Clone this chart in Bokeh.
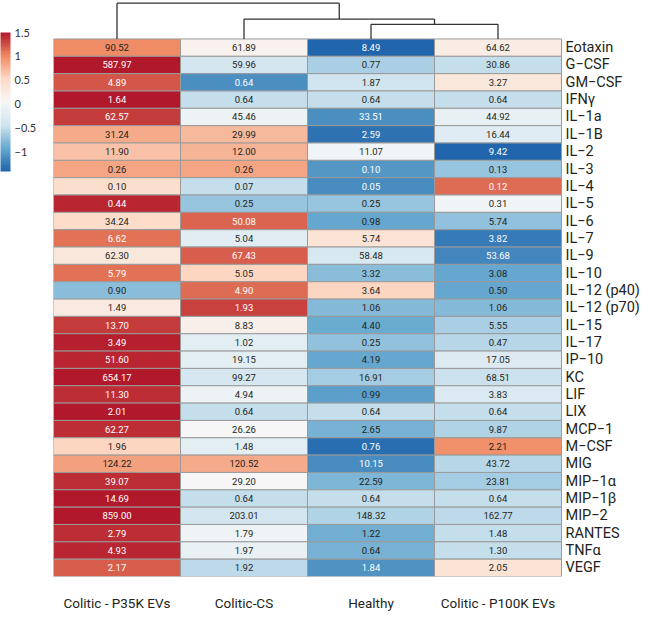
import numpy as np
from bokeh.plotting import figure
from bokeh.models import Range1d, FixedTicker, ColumnDataSource, LinearColorMapper, ColorBar
from bokeh.core.properties import value
from bokeh.embed import file_html
from bokeh.resources import INLINE

# ---------------- data ----------------
samples = ["Colitic - P35K EVs", "Colitic-CS", "Healthy", "Colitic - P100K EVs"]
cytokines = ["Eotaxin", "G−CSF", "GM−CSF", "IFNγ", "IL−1a", "IL−1B", "IL−2", "IL−3",
             "IL−4", "IL−5", "IL−6", "IL−7", "IL−9", "IL−10", "IL−12 (p40)",
             "IL−12 (p70)", "IL−15", "IL−17", "IP−10", "KC", "LIF", "LIX", "MCP−1",
             "M−CSF", "MIG", "MIP−1α", "MIP−1β", "MIP−2", "RANTES", "TNFα", "VEGF"]
p35k = [90.52, 587.97, 4.89, 1.64, 62.57, 31.24, 11.90, 0.26, 0.10, 0.44, 34.24, 6.62,
        62.30, 5.79, 0.90, 1.49, 13.70, 3.49, 51.60, 654.17, 11.30, 2.01, 62.27, 1.96,
        124.22, 39.07, 14.69, 859.00, 2.79, 4.93, 2.17]
colitic_cs = [61.89, 59.96, 0.64, 0.64, 45.46, 29.99, 12.00, 0.26, 0.07, 0.25, 50.08, 5.04,
              67.43, 5.05, 4.90, 1.93, 8.83, 1.02, 19.15, 99.27, 4.94, 0.64, 26.26, 1.48,
              120.52, 29.20, 0.64, 203.01, 1.79, 1.97, 1.92]
healthy = [8.49, 0.77, 1.87, 0.64, 33.51, 2.59, 11.07, 0.10, 0.05, 0.25, 0.98, 5.74,
           58.48, 3.32, 3.64, 1.06, 4.40, 0.25, 4.19, 16.91, 0.99, 0.64, 2.65, 0.76,
           10.15, 22.59, 0.64, 148.32, 1.22, 0.64, 1.84]
p100k = [64.62, 30.86, 3.27, 0.64, 44.92, 16.44, 9.42, 0.13, 0.12, 0.31, 5.74, 3.82,
         53.68, 3.08, 0.50, 1.06, 5.55, 0.47, 17.05, 68.51, 3.83, 0.64, 9.87, 2.21,
         43.72, 23.81, 0.64, 162.77, 1.48, 1.30, 2.05]
# column dendrogram merges (scipy-style node ids: leaves 0..3, new nodes 4,5,6)
dendro_left = [2, 1, 0]
dendro_right = [3, 4, 5]
dendro_height = [0.41, 0.555, 1.0]
legend_ticks = [-1, -0.5, 0, 0.5, 1, 1.5]

# ---------------- derived (row-scaled z scores) ----------------
M = np.array([p35k, colitic_cs, healthy, p100k]).T           # rows x samples
Z = (M - M.mean(axis=1, keepdims=True)) / M.std(axis=1, ddof=1, keepdims=True)
nrow, ncol = M.shape

xs, ys, zs, labels, tcolors = [], [], [], [], []
for r in range(nrow):
    for c in range(ncol):
        xs.append(c + 0.5)
        ys.append(nrow - r - 0.5)
        zs.append(float(Z[r, c]))
        labels.append(f"{M[r, c]:.2f}")
        tcolors.append("white" if abs(Z[r, c]) > 1.0 else "#231f20")
cells = ColumnDataSource(dict(x=xs, y=ys, z=zs, label=labels, tcolor=tcolors))

# RdBu palette (blue -> white -> red)
anchors = ["#2166ac", "#67a9cf", "#d1e5f0", "#f7f7f7", "#fddbc7", "#ef8a62", "#b2182b"]
rgb = np.array([[int(h[i:i + 2], 16) for i in (1, 3, 5)] for h in anchors], float)
t = np.linspace(0, 1, 100)
pos = np.linspace(0, 1, len(anchors))
palette = ["#%02x%02x%02x" % tuple(int(round(np.interp(tt, pos, rgb[:, k]))) for k in range(3))
           for tt in t]
mapper = LinearColorMapper(palette=palette, low=float(Z.min()), high=float(Z.max()))

# ---------------- layout (pixels) ----------------
W, H = 641, 613
LEFT = 53            # heatmap left edge
HM_W = 508           # heatmap width
HM_TOP = 39          # heatmap top (dendrogram above it)
HM_BOT = 584         # heatmap bottom
row_px = (HM_BOT - HM_TOP) / nrow
D_ROWS = HM_TOP / row_px                      # dendrogram band, in row units
x_end = ncol * (W - LEFT) / HM_W              # extra room on the right for row names

p = figure(width=W, height=H, output_backend="svg", toolbar_location=None, title=None,
           x_range=Range1d(0, x_end), y_range=Range1d(0, nrow + D_ROWS),
           y_axis_location=None, min_border_left=LEFT, min_border_right=0,
           min_border_top=0, min_border_bottom=H - HM_BOT)
p.outline_line_color = None
p.grid.visible = False
p.background_fill_color = "white"
p.border_fill_color = "white"

p.rect(x="x", y="y", width=1, height=1, source=cells,
       fill_color={"field": "z", "transform": mapper},
       line_color="#9a9a9a", line_width=1)
p.text(x="x", y="y", text="label", source=cells, text_color="tcolor",
       text_align="center", text_baseline="middle",
       text_font=value("Roboto"), text_font_size="9.5px")

# dendrogram on its own scale: 0 = heatmap top, 1 = top merge
k = (HM_TOP - 2.7) / row_px
p.extra_y_ranges = {"dendro": Range1d(start=-nrow / k, end=D_ROWS / k)}
node_x = {i: i + 0.5 for i in range(ncol)}
node_h = {i: 0.0 for i in range(ncol)}
sx0, sy0, sx1, sy1 = [], [], [], []
for j, (a, b, h) in enumerate(zip(dendro_left, dendro_right, dendro_height)):
    nid = ncol + j
    for ch in (a, b):
        sx0.append(node_x[ch]); sy0.append(node_h[ch]); sx1.append(node_x[ch]); sy1.append(h)
    sx0.append(node_x[a]); sy0.append(h); sx1.append(node_x[b]); sy1.append(h)
    node_x[nid] = (node_x[a] + node_x[b]) / 2
    node_h[nid] = h
p.segment(x0=sx0, y0=sy0, x1=sx1, y1=sy1, y_range_name="dendro",
          line_color="#333333", line_width=1.3)

# row labels (right of the heatmap)
p.text(x=[ncol] * nrow, y=[nrow - r - 0.5 for r in range(nrow)], text=cytokines,
       x_offset=4, text_baseline="middle", text_align="left",
       text_font=value("Roboto"), text_font_size="14.5px",
       text_color="#231f20")

# column labels on the bottom axis
ax = p.xaxis[0]
ax.ticker = FixedTicker(ticks=[c + 0.5 for c in range(ncol)])
ax.major_label_overrides = {c + 0.5: s for c, s in enumerate(samples)}
ax.axis_line_color = None
ax.major_tick_line_color = None
ax.minor_tick_line_color = None
ax.major_label_standoff = 12
ax.major_label_text_font = "Roboto"
ax.major_label_text_font_size = "13.5px"
ax.major_label_text_color = "#231f20"

# colour key
cb = ColorBar(color_mapper=mapper, location=(-LEFT, HM_BOT - 179), width=10, height=139,
              padding=0, ticker=FixedTicker(ticks=legend_ticks),
              major_label_text_font="Lato",
              major_label_text_font_size="11px", major_label_text_color="#333333",
              major_tick_line_color=None, bar_line_color=None, border_line_color=None,
              background_fill_alpha=0, label_standoff=4)
p.add_layout(cb, "center")

open("out.html", "w").write(file_html(p, INLINE))
